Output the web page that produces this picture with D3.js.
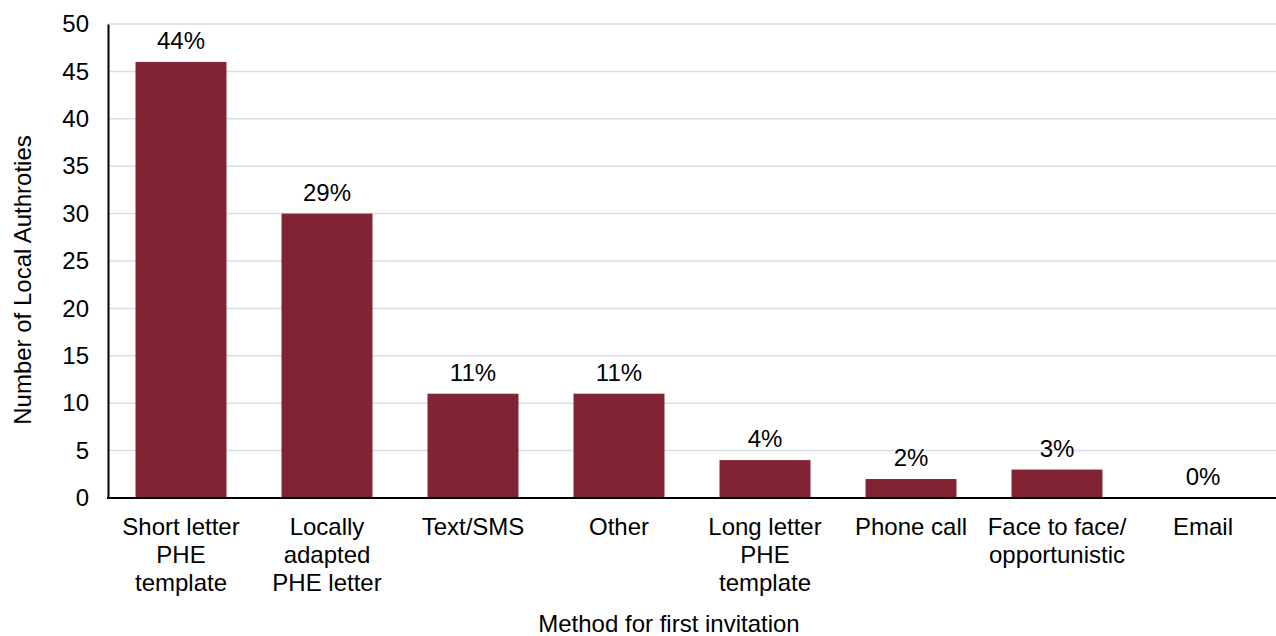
<!DOCTYPE html>
<html>
<head>
<meta charset="utf-8">
<script src="https://cdn.jsdelivr.net/npm/d3@7"></script>
<style>
  body { margin: 0; background: #fff; }
  svg text { font-family: "Liberation Sans", Arial, sans-serif; fill: #000; }
</style>
</head>
<body>
<svg id="chart" width="1276" height="636"></svg>
<script>
// chart data
var categories = [
    ["Short letter", "PHE", "template"],
    ["Locally", "adapted", "PHE letter"],
    ["Text/SMS"],
    ["Other"],
    ["Long letter", "PHE", "template"],
    ["Phone call"],
    ["Face to face/", "opportunistic"],
    ["Email"]
];
var counts = [46, 30, 11, 11, 4, 2, 3, 0];
var percentLabels = ["44%", "29%", "11%", "11%", "4%", "2%", "3%", "0%"];
var yTicks = [0, 5, 10, 15, 20, 25, 30, 35, 40, 45, 50];

var svg = d3.select('#chart');
var margin = { left: 108, right: 0, top: 24, bottom: 138 };
var width = 1276, height = 636;
var fontSize = '24px';

var x = d3.scaleBand()
    .domain(d3.range(categories.length))
    .range([margin.left, width - margin.right])
    .paddingInner(0.377)
    .paddingOuter(0.377 / 2);

var y = d3.scaleLinear()
    .domain([0, 50])
    .range([height - margin.bottom, margin.top]);

// gridlines
svg.append('g')
    .selectAll('line')
    .data(yTicks.filter(function (d) { return d > 0; }))
    .enter().append('line')
    .attr('x1', margin.left)
    .attr('x2', width - margin.right)
    .attr('y1', function (d) { return y(d); })
    .attr('y2', function (d) { return y(d); })
    .attr('stroke', '#d9dee6')
    .attr('stroke-width', 1.5);

// bars
svg.append('g')
    .selectAll('rect')
    .data(counts)
    .enter().append('rect')
    .attr('x', function (d, i) { return x(i); })
    .attr('y', function (d) { return y(d); })
    .attr('width', x.bandwidth())
    .attr('height', function (d) { return y(0) - y(d); })
    .attr('fill', '#812333');

// value labels
svg.append('g')
    .selectAll('text')
    .data(counts)
    .enter().append('text')
    .attr('x', function (d, i) { return x(i) + x.bandwidth() / 2; })
    .attr('y', function (d) { return y(d) - 13; })
    .attr('text-anchor', 'middle')
    .style('font-size', fontSize)
    .text(function (d, i) { return percentLabels[i]; });

// y axis
var yAxis = d3.axisLeft(y).tickValues(yTicks).tickSize(0).tickPadding(19);
var gy = svg.append('g')
    .attr('transform', 'translate(' + margin.left + ',0)')
    .call(yAxis);
gy.select('.domain').attr('stroke', '#000').attr('stroke-width', 2);
gy.selectAll('text').style('font-size', fontSize)
    .attr('font-family', '"Liberation Sans", Arial, sans-serif');

// x axis line
svg.append('line')
    .attr('x1', margin.left - 1)
    .attr('x2', width)
    .attr('y1', y(0))
    .attr('y2', y(0))
    .attr('stroke', '#000')
    .attr('stroke-width', 2);

// category labels
var catG = svg.append('g')
    .selectAll('text')
    .data(categories)
    .enter().append('text')
    .attr('text-anchor', 'middle')
    .style('font-size', fontSize)
    .attr('transform', function (d, i) {
        return 'translate(' + (x(i) + x.bandwidth() / 2) + ',' + (y(0) + 37) + ')';
    });
catG.selectAll('tspan')
    .data(function (d) { return d; })
    .enter().append('tspan')
    .attr('x', 0)
    .attr('dy', function (d, j) { return j === 0 ? 0 : 28; })
    .text(function (d) { return d; });

// axis titles
svg.append('text')
    .attr('x', (margin.left + width) / 2 - 23)
    .attr('y', 632)
    .attr('text-anchor', 'middle')
    .style('font-size', fontSize)
    .text('Method for first invitation');

svg.append('text')
    .attr('transform', 'translate(31,280) rotate(-90)')
    .attr('text-anchor', 'middle')
    .style('font-size', fontSize)
    .text('Number of Local Authroties');
</script>
</body>
</html>
